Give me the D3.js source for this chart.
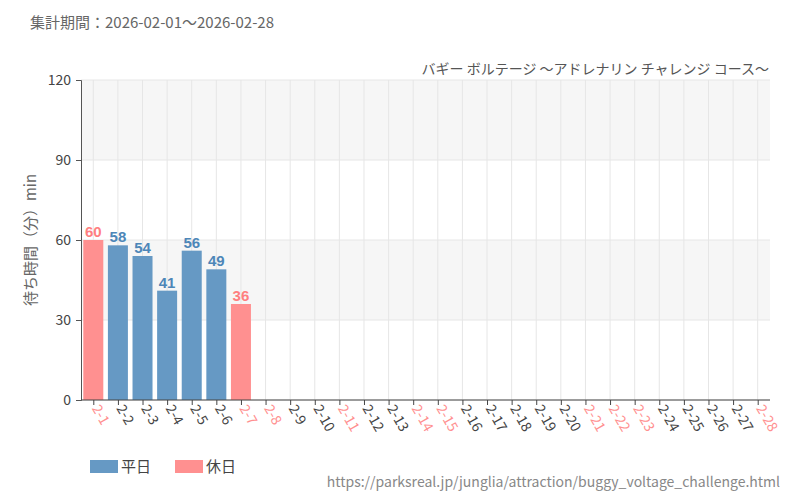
<!DOCTYPE html>
<html><head><meta charset="utf-8">
<script src="https://cdn.jsdelivr.net/npm/d3@7"></script>
<style>body{margin:0;background:#fff}text{font-family:"Noto Sans CJK JP","Noto Sans",sans-serif}</style>
</head><body><svg id="c" width="800" height="500"></svg>
<script>
const days = ['2-1','2-2','2-3','2-4','2-5','2-6','2-7','2-8','2-9','2-10','2-11','2-12','2-13','2-14','2-15','2-16','2-17','2-18','2-19','2-20','2-21','2-22','2-23','2-24','2-25','2-26','2-27','2-28'];
const holidays = ['2-1','2-7','2-8','2-11','2-14','2-15','2-21','2-22','2-23','2-28'];
const waits = [60,58,54,41,56,49,36];
const yTicks = [0,30,60,90,120];

const blue = '#6699c4', red = '#ff9090', blueT = '#4d86b8', redT = '#ff7f7f';
const margin = {l: 81, t: 80, r: 30, b: 100};
const W = 800, H = 500;
const svg = d3.select('#c');

const x = d3.scaleBand().domain(days).range([margin.l, W - margin.r]).paddingInner(0.2).paddingOuter(0.1);
const xp = d3.scalePoint().domain(days).range([margin.l, W - margin.r]).padding(0.5);
const y = d3.scaleLinear().domain([0, 120]).range([H - margin.b, margin.t]);

// alternating bands
[[90,120],[30,60]].forEach(([a,b]) => {
    svg.append('rect').attr('x', margin.l).attr('width', W - margin.r - margin.l)
        .attr('y', y(b)).attr('height', y(a) - y(b)).attr('fill', '#f6f6f6');
});
// grid
svg.append('g').selectAll('line').data(days).join('line')
    .attr('x1', d => xp(d)).attr('x2', d => xp(d)).attr('y1', margin.t).attr('y2', y(0))
    .attr('stroke', '#e6e6e6');
svg.append('g').selectAll('line').data(yTicks).join('line')
    .attr('x1', margin.l).attr('x2', W - margin.r).attr('y1', d => y(d)).attr('y2', d => y(d))
    .attr('stroke', '#e6e6e6');

const isHol = d => holidays.includes(d);
const data = waits.map((v, i) => ({d: days[i], v}));
svg.append('g').selectAll('rect').data(data).join('rect')
    .attr('x', d => xp(d.d) - 10).attr('width', 20)
    .attr('y', d => y(d.v)).attr('height', d => y(0) - y(d.v))
    .attr('fill', d => isHol(d.d) ? red : blue);
svg.append('g').selectAll('text').data(data).join('text')
    .attr('x', d => xp(d.d)).attr('y', d => y(d.v) - 3).attr('text-anchor', 'middle')
    .attr('fill', d => isHol(d.d) ? redT : blueT)
    .style('font-family', '"Liberation Sans Narrow",sans-serif').style('font-size', '15px').style('font-weight', 'bold')
    .text(d => d.v);

// axes
const yAxis = svg.append('g').attr('transform', `translate(${margin.l},0)`)
    .call(d3.axisLeft(y).tickValues(yTicks).tickSize(5));
yAxis.select('.domain').attr('stroke', '#555');
yAxis.selectAll('.tick line').attr('stroke', '#555');
yAxis.selectAll('text').attr('fill', '#444').style('font-size', '14px').attr('dx', '-2');

const xAxis = svg.append('g').attr('transform', `translate(0,${y(0)})`)
    .call(d3.axisBottom(xp).tickSize(5).tickSizeOuter(0));
xAxis.select('.domain').attr('stroke', '#444').attr('d', `M${margin.l},0H${W - margin.r}`);
xAxis.selectAll('.tick line').attr('stroke', '#444');
xAxis.selectAll('text').attr('fill', d => isHol(d) ? red : '#444')
    .style('font-size', '14px').attr('text-anchor', 'start')
    .attr('transform', 'rotate(60)').attr('dy', '0.3em').attr('x', 6).attr('y', 2);

svg.append('text').attr('transform', `translate(36,${(margin.t + y(0)) / 2}) rotate(-90)`)
    .attr('text-anchor', 'middle').attr('fill', '#666').style('font-size', '15px').text('待ち時間（分）min');

svg.append('text').attr('x', 30).attr('y', 28).attr('fill', '#666').style('font-size', '15px')
    .text('集計期間：2026-02-01～2026-02-28');
svg.append('text').attr('x', 769).attr('y', 74).attr('text-anchor', 'end').attr('fill', '#555').style('font-size', '14px')
    .text('バギー ボルテージ ～アドレナリン チャレンジ コース～');

// legend
[['平日', blue, 90], ['休日', red, 175]].forEach(([t, c, lx]) => {
    svg.append('rect').attr('x', lx).attr('y', 460).attr('width', 28).attr('height', 13).attr('fill', c);
    svg.append('text').attr('x', lx + 31).attr('y', 472).attr('fill', '#444').style('font-size', '15px').text(t);
});
svg.append('text').attr('x', 780).attr('y', 487).attr('text-anchor', 'end').attr('fill', '#888').style('font-size', '14px')
    .text('https://parksreal.jp/junglia/attraction/buggy_voltage_challenge.html');
</script></body></html>
